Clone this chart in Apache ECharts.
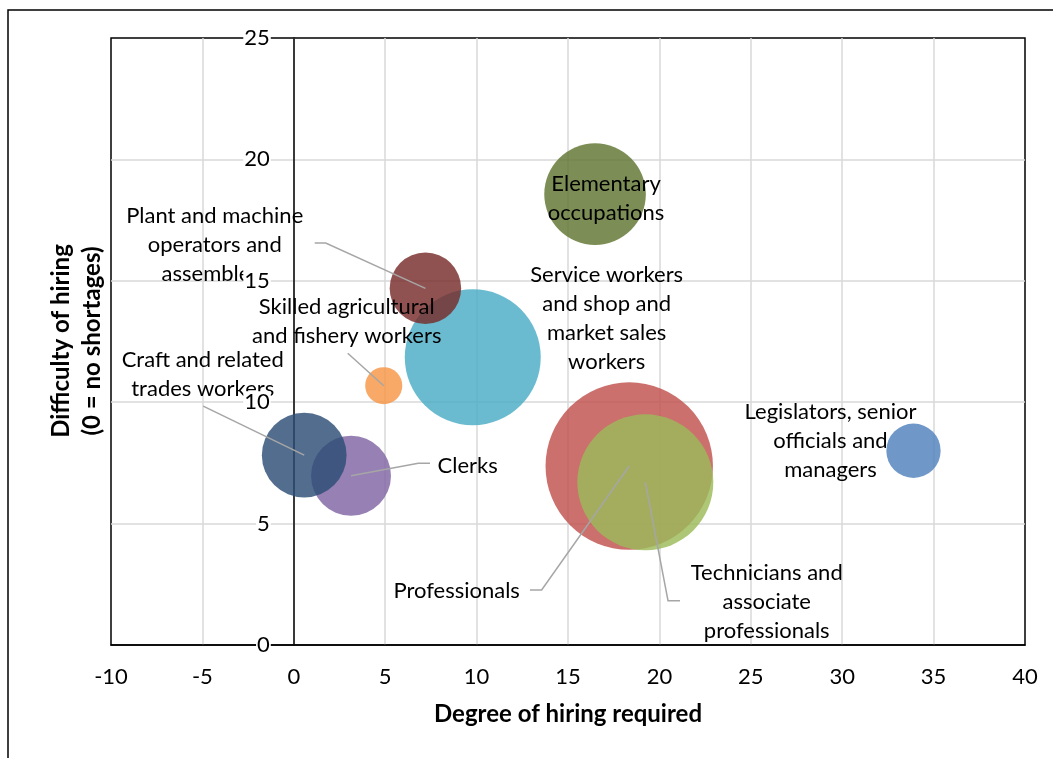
<!DOCTYPE html>
<html>
<head>
<meta charset="utf-8">
<script src="https://cdn.jsdelivr.net/npm/echarts@6/dist/echarts.min.js"></script>
<style>
  html, body { margin: 0; padding: 0; background: #fff; }
  #chart { width: 1053px; height: 758px; }
</style>
</head>
<body>
<div id="chart"></div>
<script>
// Occupation groups (label text carries its own line breaks)
const occupations = [
  'Legislators, senior\nofficials and\nmanagers',
  'Professionals',
  'Technicians and\nassociate\nprofessionals',
  'Clerks',
  'Service workers\nand shop and\nmarket sales\nworkers',
  'Skilled agricultural\nand fishery workers',
  'Craft and related\ntrades workers',
  'Plant and machine\noperators and\nassemblers',
  'Elementary\noccupations'
];

// Degree of hiring required (x)
const degreeOfHiring = [33.9, 18.35, 19.23, 3.13, 9.79, 4.92, 0.57, 7.2, 16.48];
// Difficulty of hiring, 0 = no shortages (y)
const difficultyOfHiring = [8.0, 7.37, 6.70, 6.97, 11.85, 10.68, 7.82, 14.69, 18.57];
// Share of employment (bubble area)
const employmentShare = [3.0, 28.5, 18.8, 6.5, 18.8, 1.4, 7.3, 5.2, 10.5];

// Axis ranges and the vertical axis tick labels
const xRange = { min: -10, max: 40, step: 5 };
const yRange = { min: 0, max: 25, step: 5 };
const yTickLabels = [0, 5, 10, 15, 20, 25];

// Office-style series palette
const palette = ['#4F81BD', '#C0504D', '#9BBB59', '#8064A2', '#4BACC6',
                 '#F79646', '#2C4D75', '#772C2A', '#5F7530'];

// Callout placement in pixels relative to each bubble centre:
// text block centre (dx, dy) and optional leader-line points before the centre
const callouts = [
  { dx: -83,    dy: -10 },
  { dx: -172.6, dy: 124.7, line: [[-99.3, 124], [-87.6, 124]] },
  { dx: 121.4,  dy: 119.7, line: [[34.7, 118.4], [22.7, 118.4]] },
  { dx: 116.7,  dy: -10,   line: [[79, -12.4], [67.3, -12.4]] },
  { dx: 133.9,  dy: -39.2 },
  { dx: -37,    dy: -64.7, line: [[-36, -32.4]] },
  { dx: -101.5, dy: -81,   line: [[-101, -49]] },
  { dx: -210.7, dy: -43.6, line: [[-110.7, -45.3], [-99.7, -45.3]] },
  { dx: 11,     dy: 4.5 }
];

const FONT = 'Lato, "Noto Sans", sans-serif';
const maxShare = Math.max.apply(null, employmentShare);
const MAX_DIAMETER = 167.4;

const chart = echarts.init(document.getElementById('chart'), null, { renderer: 'canvas' });

const bubbleData = degreeOfHiring.map((x, i) => ({
  value: [x, difficultyOfHiring[i], employmentShare[i]],
  itemStyle: { color: palette[i] }
}));
const calloutData = degreeOfHiring.map((x, i) => [x, difficultyOfHiring[i], i]);

const gridLine = {
  show: true, showMinLine: false, showMaxLine: false,
  lineStyle: { color: '#D9D9D9', width: 1.5 }
};

const option = {
  animation: false,
  backgroundColor: '#fff',
  grid: {
    left: 111, right: 28, top: 38, bottom: 113,
    show: true, borderColor: '#000', borderWidth: 1.5,
    containLabel: false, outerBoundsMode: 'none'
  },
  xAxis: {
    type: 'value',
    min: xRange.min, max: xRange.max, interval: xRange.step,
    name: 'Degree of hiring required',
    nameLocation: 'middle', nameGap: 57,
    nameTextStyle: { fontFamily: FONT, fontSize: 24, fontWeight: 'bold', color: '#000' },
    axisLine: { show: true, onZero: true, lineStyle: { color: '#000', width: 1.5 } },
    axisTick: { show: false },
    axisLabel: { fontFamily: FONT, fontSize: 22, color: '#000', margin: 21 },
    splitLine: gridLine,
    z: 1
  },
  yAxis: {
    type: 'value', position: 'left',
    min: yRange.min, max: yRange.max, interval: yRange.step,
    axisLine: { show: true, onZero: true, lineStyle: { color: '#000', width: 1.5 } },
    axisTick: { show: false },
    axisLabel: { show: false },
    splitLine: gridLine,
    z: 1
  },
  graphic: [
    {
      type: 'rect', silent: true,
      shape: { x: 8, y: 10, width: 1200, height: 900 },
      style: { fill: null, stroke: '#000', lineWidth: 1.5 }
    },
    {
      type: 'text', silent: true,
      x: 77, y: 341, rotation: Math.PI / 2,
      style: {
        text: 'Difficulty of hiring\n(0 = no shortages)',
        align: 'center', verticalAlign: 'middle',
        font: 'bold 24px ' + FONT, fill: '#000', lineHeight: 31
      }
    }
  ],
  series: [
    {
      type: 'scatter',
      data: bubbleData,
      symbol: 'circle',
      symbolSize: v => MAX_DIAMETER * Math.sqrt(v[2] / maxShare),
      itemStyle: { opacity: 0.82 },
      emphasis: { disabled: true },
      z: 2
    },
    {
      // callout text with leader lines
      type: 'custom',
      data: calloutData,
      encode: { x: 0, y: 1 },
      clip: false,
      silent: true,
      z: 3,
      renderItem: function (params, api) {
        const i = api.value(2);
        const c = api.coord([api.value(0), api.value(1)]);
        const co = callouts[i];
        const children = [];
        if (co.line) {
          const pts = co.line.map(p => [c[0] + p[0], c[1] + p[1]]).concat([c]);
          children.push({
            type: 'polyline',
            shape: { points: pts },
            style: { stroke: '#A6A6A6', lineWidth: 1.5, fill: null }
          });
        }
        children.push({
          type: 'text',
          style: {
            text: occupations[i],
            x: c[0] + co.dx, y: c[1] + co.dy,
            align: 'center', verticalAlign: 'middle',
            font: '22px ' + FONT, fill: '#000', lineHeight: 29
          }
        });
        return { type: 'group', children: children };
      }
    },
    {
      // vertical-axis tick labels beside the x = 0 crossing, on a white backing
      type: 'custom',
      data: yTickLabels.map(v => [0, v]),
      encode: { x: 0, y: 1 },
      clip: false,
      silent: true,
      z: 10,
      renderItem: function (params, api) {
        const c = api.coord([api.value(0), api.value(1)]);
        return {
          type: 'text',
          style: {
            text: String(api.value(1)),
            x: c[0] - 23, y: c[1],
            align: 'right', verticalAlign: 'middle',
            font: '22px ' + FONT, fill: '#000',
            backgroundColor: '#fff', padding: [0, 1]
          }
        };
      }
    }
  ]
};

chart.setOption(option);
</script>
</body>
</html>
